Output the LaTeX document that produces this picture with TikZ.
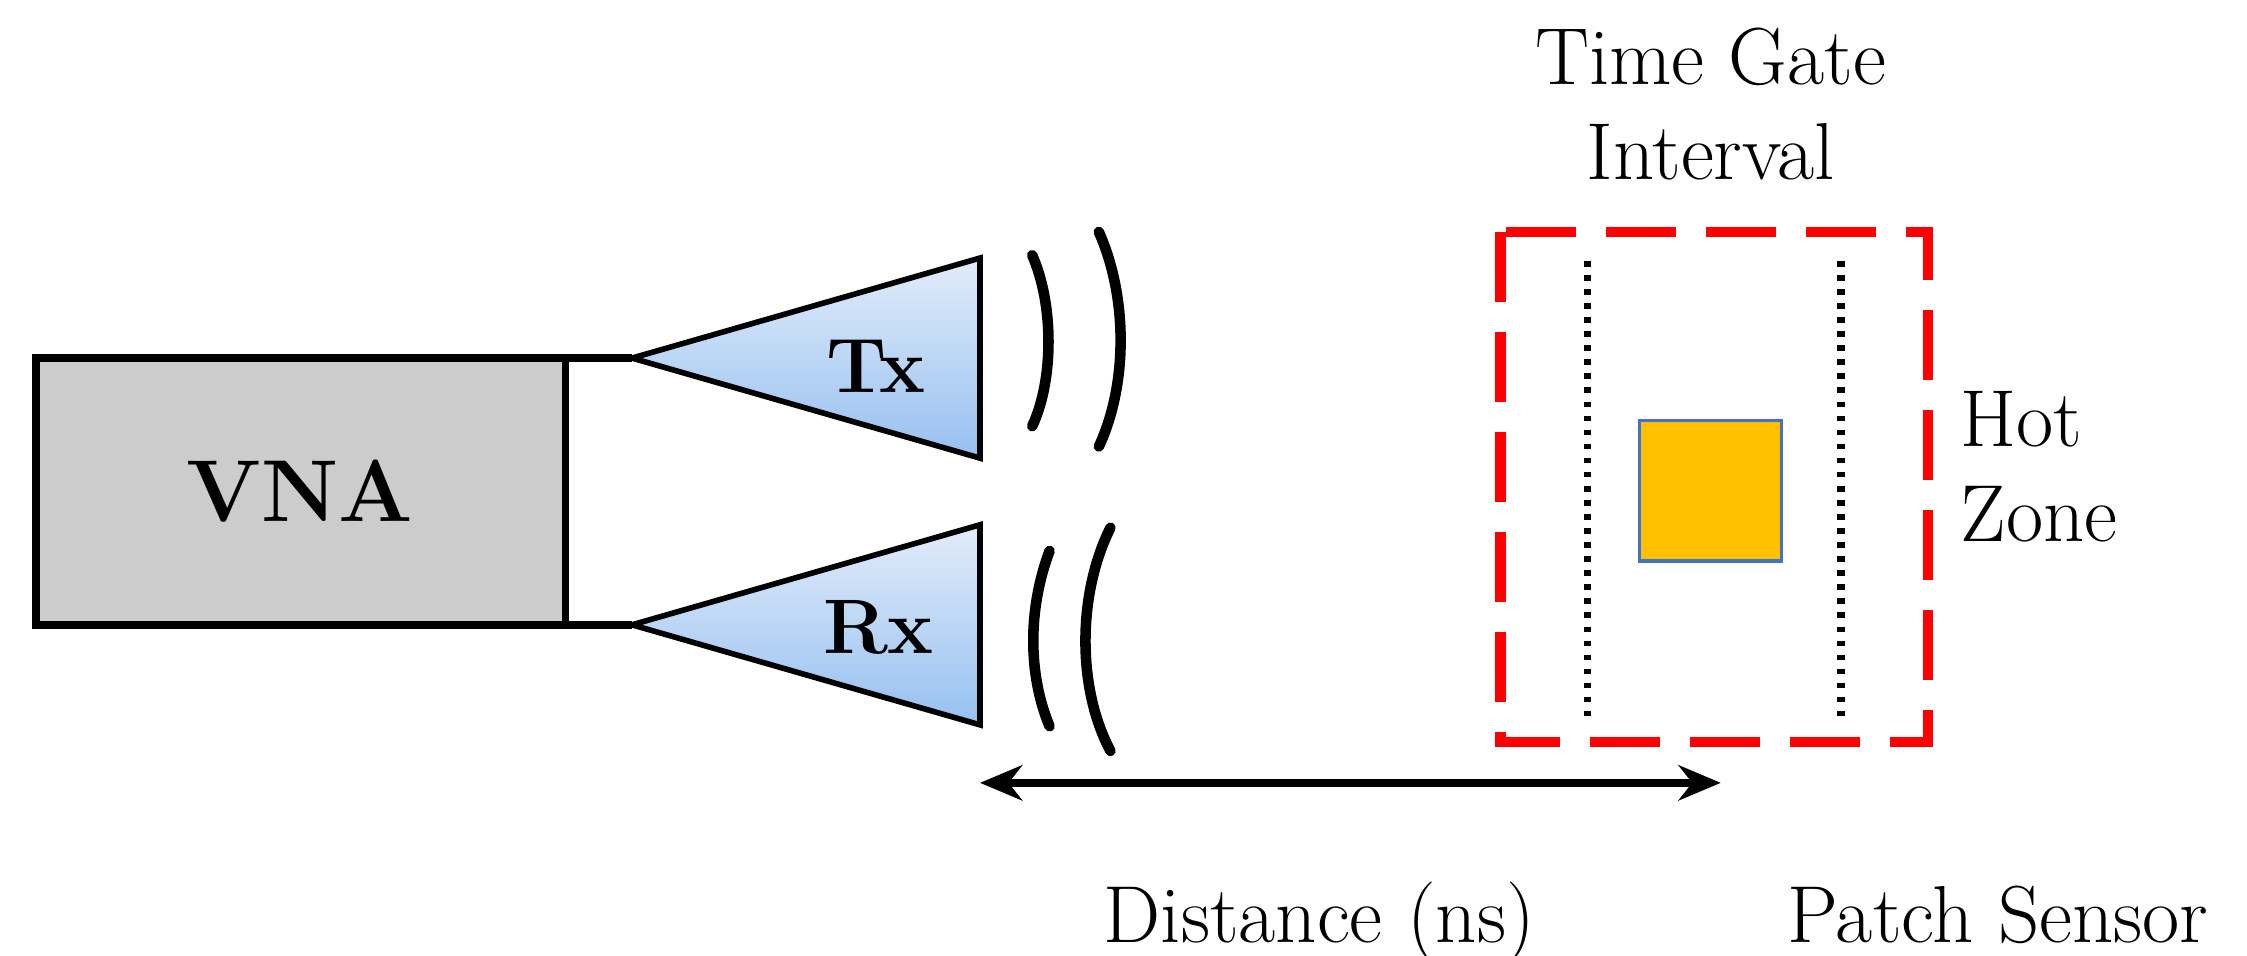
\documentclass[tikz,border=0pt]{standalone}
\usepackage{tikz}
\usetikzlibrary{arrows.meta}
\definecolor{hornlight}{RGB}{226,236,250}
\definecolor{horndark}{RGB}{150,192,240}
\definecolor{gatered}{RGB}{255,0,0}
\definecolor{patchorange}{RGB}{255,192,0}
\definecolor{patchblue}{RGB}{68,114,196}
\tikzset{
  horn/.style={draw=black, line width=1.6pt, top color=hornlight, bottom color=horndark},
  wave/.style={line width=3pt, line cap=round},
  lbl/.style={font=\fontsize{23}{27}\selectfont, align=center, inner sep=0pt}
}

\begin{document}
\begin{tikzpicture}[x=0.0145cm, y=-0.0145cm]
    \useasboundingbox (0,0) rectangle (1550,659);

    % VNA
    \draw[fill=black!20, line width=2.2pt] (25,247) rectangle (390,431);
    \node[lbl, font=\fontsize{25}{29}\selectfont\bfseries] (vna) at (207,339) {VNA};
    \draw[line width=2.2pt] (390,247) -- (436,247);
    \draw[line width=2.2pt] (390,431) -- (436,431);

    % Horns
    \draw[horn] (436,247) -- (676,178) -- (676,316) -- cycle;
    \node[lbl, font=\fontsize{22}{26}\selectfont\bfseries] (tx) at (604,253) {Tx};
    \draw[horn] (436,431) -- (676,362) -- (676,500) -- cycle;
    \node[lbl, font=\fontsize{22}{26}\selectfont\bfseries] (rx) at (606,433) {Rx};

    % Waves
    \draw[wave] (712,176) .. controls (727,210) and (727,262) .. (712,294);
    \draw[wave] (758,160) .. controls (778,205) and (778,265) .. (758,308);
    \draw[wave] (724,380) .. controls (709,420) and (709,465) .. (724,501);
    \draw[wave] (766,364) .. controls (743,410) and (743,475) .. (766,518);

    % Time gate and patch
    \draw[gatered, line width=2.9pt, dash pattern=on 0.7cm off 0.3cm] (1035,160) rectangle (1330,512);
    \draw[line width=2.2pt, dash pattern=on 1.6pt off 2.4pt] (1095,180) -- (1095,495);
    \draw[line width=2.2pt, dash pattern=on 1.6pt off 2.4pt] (1270,180) -- (1270,495);
    \draw[fill=patchorange, draw=patchblue, line width=1pt] (1131,290) rectangle (1229,387);

    % Distance arrow
    \coordinate (dleft) at (676,540);
    \coordinate (dright) at (1187,540);
    \draw[{Stealth[length=12pt,width=10pt]}-{Stealth[length=12pt,width=10pt]}, line width=2.2pt] (dleft) -- (dright);

    % Labels
    \node[lbl] (gate) at (1180,72) {Time Gate\\Interval};
    \node[lbl, align=left, anchor=west] (hot) at (1352,322) {Hot\\Zone};
    \node[lbl] (dist) at (910,650) [anchor=base] {Distance (ns)};
    \node[lbl] (patch) at (1378,650) [anchor=base] {Patch Sensor};
\end{tikzpicture}
\end{document}
